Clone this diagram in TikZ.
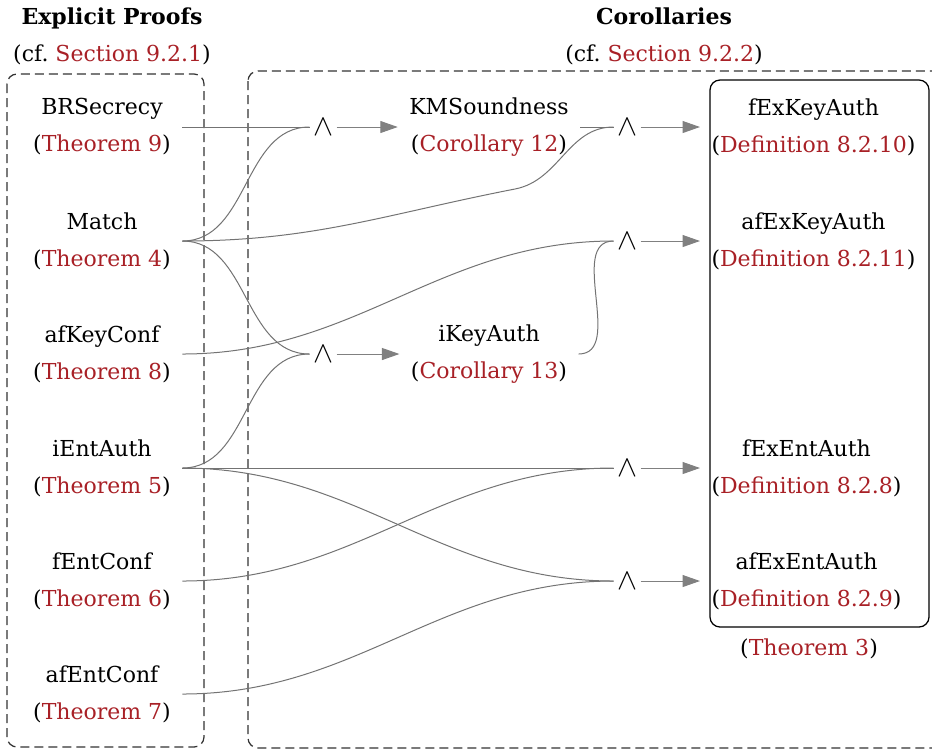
\documentclass[tikz,border=0pt]{standalone}
\usepackage{fontspec}
\setmainfont{DejaVu Serif}
\usepackage{tikz}
\usetikzlibrary{arrows.meta,positioning}

\definecolor{reflink}{RGB}{168,32,38}
\newcommand{\refto}[1]{(\textcolor{reflink}{#1})}

\begin{document}
\begin{tikzpicture}[x=0.4pt,y=-0.4pt,
    font=\fontsize{8.8}{14.8}\selectfont,
    lemma/.style={align=center,inner sep=4.4pt},
    conj/.style={inner sep=0pt,minimum width=10.4pt,minimum height=8pt,font=\fontsize{12}{12}\selectfont},
    dep/.style={draw=black!55,line width=0.4pt},
    imp/.style={draw=black!50,line width=0.4pt,-{Triangle[length=7pt,width=4.8pt]}},
    group/.style={draw=black!80,line width=0.5pt,dash pattern=on 3.6pt off 2pt,rounded corners=4pt}]
    \useasboundingbox (0,0) rectangle (932,749);

    % the two groups
    \draw[group] (7,74) rectangle (204,747);
    \draw[group] (248,71) rectangle (950,748);
    \node[align=center] (proofs) at (112,36) {\textbf{Explicit Proofs}\\(cf.~\textcolor{reflink}{Section 9.2.1})};
    \node[align=center] (cors) at (664,36) {\textbf{Corollaries}\\(cf.~\textcolor{reflink}{Section 9.2.2})};

    % proven directly
    \node[lemma] (brs) at (102,127) {BRSecrecy\\\refto{Theorem 9}};
    \node[lemma] (match) at (102,241) {Match\\\refto{Theorem 4}};
    \node[lemma] (akc) at (102,354) {afKeyConf\\\refto{Theorem 8}};
    \node[lemma] (iea) at (102,468) {iEntAuth\\\refto{Theorem 5}};
    \node[lemma] (fec) at (102,581) {fEntConf\\\refto{Theorem 6}};
    \node[lemma] (aec) at (102,694) {afEntConf\\\refto{Theorem 7}};

    % conjunctions
    \node[conj] (and1) at (323,127) {$\wedge$};
    \node[conj] (and2) at (323,354) {$\wedge$};
    \node[conj] (and3) at (627,127) {$\wedge$};
    \node[conj] (and4) at (627,241) {$\wedge$};
    \node[conj] (and5) at (627,468) {$\wedge$};
    \node[conj] (and6) at (627,581) {$\wedge$};

    % corollaries
    \node[lemma] (kms) at (489,127) {KMSoundness\\\refto{Corollary 12}};
    \node[lemma] (ika) at (489,354) {iKeyAuth\\\refto{Corollary 13}};

    % Theorem 3
    \draw[line width=0.5pt,rounded corners=4pt] (710,80) rectangle (929,627);
    \node[lemma,anchor=west] (fka) at (700,127) {fExKeyAuth\\\refto{Definition 8.2.10}};
    \node[lemma,anchor=west] (aka) at (700,241) {afExKeyAuth\\\refto{Definition 8.2.11}};
    \node[lemma,anchor=west] (fea) at (700,468) {fExEntAuth\\\refto{Definition 8.2.8}};
    \node[lemma,anchor=west] (aea) at (700,581) {afExEntAuth\\\refto{Definition 8.2.9}};
    \node (thm3) at (809,649) {\refto{Theorem 3}};

    \coordinate (kmbend) at (515,189);

    % dependencies
    \draw[dep] (brs.east) -- (and1.west);
    \draw[dep] (match.east) to[out=0,in=180] (and1.west);
    \draw[dep] (match.east) to[out=0,in=191] (kmbend) to[out=11,in=180] (and3.west);
    \draw[dep] (match.east) to[out=0,in=180] (and2.west);
    \draw[dep] (akc.east) to[out=0,in=180] (and4.west);
    \draw[dep] (iea.east) to[out=0,in=180] (and2.west);
    \draw[dep] (iea.east) -- (and5.west);
    \draw[dep] (iea.east) to[out=0,in=180] (and6.west);
    \draw[dep] (fec.east) to[out=0,in=180] (and5.west);
    \draw[dep] (aec.east) to[out=0,in=180] (and6.west);
    \draw[dep] (kms.east) -- (and3.west);
    \draw[dep] (ika.east) to[out=0,in=180] (and4.west);

    \draw[imp] (and1.east) -- (kms.west);
    \draw[imp] (and2.east) -- (ika.west);
    \draw[imp] (and3.east) -- (fka.west);
    \draw[imp] (and4.east) -- (aka.west);
    \draw[imp] (and5.east) -- (fea.west);
    \draw[imp] (and6.east) -- (aea.west);
\end{tikzpicture}
\end{document}
